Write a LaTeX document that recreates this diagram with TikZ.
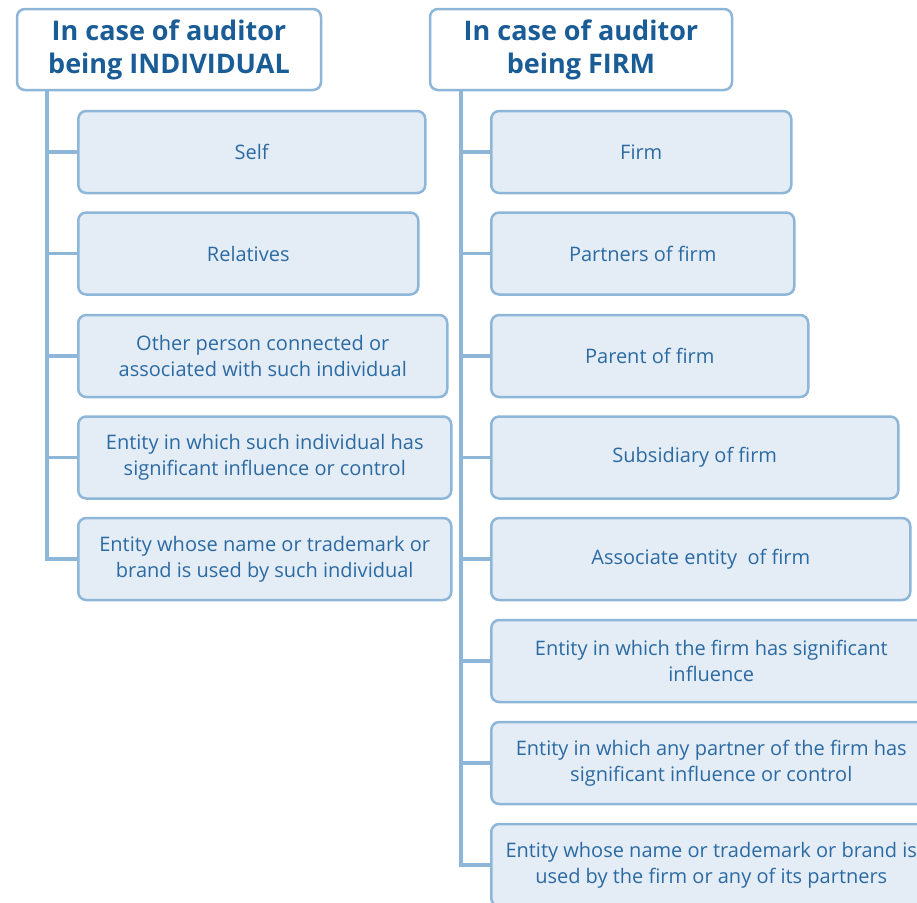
\documentclass[tikz,border=0pt]{standalone}
\usepackage{fontspec}
\setmainfont{Open Sans}
\definecolor{edgeblue}{HTML}{8DB6D8}
\definecolor{boxfill}{HTML}{E4EDF5}
\definecolor{txtblue}{HTML}{2B6AA3}
\definecolor{hdrblue}{HTML}{1A5C96}
\tikzset{
  hdr/.style={draw=edgeblue,line width=2.5pt,rounded corners=8pt,fill=white,
    text=hdrblue,font=\fontsize{27}{33}\selectfont\bfseries,align=center,
    minimum height=81pt,inner sep=0pt},
  itembox/.style={draw=edgeblue,line width=2.5pt,rounded corners=8pt,fill=boxfill,
    text=txtblue,font=\fontsize{20}{26}\selectfont,align=center,
    minimum height=82pt,inner sep=0pt,anchor=west},
  branch/.style={draw=edgeblue,line width=3.5pt}
}
\begin{document}
\begin{tikzpicture}[x=1pt,y=-1pt]
\useasboundingbox (0,0) rectangle (917,902);
% headers
\node[hdr,minimum width=304pt] (indiv) at (169,49.5) {In case of auditor\\being INDIVIDUAL};
\node[hdr,minimum width=302pt] (firm) at (581,49.5) {In case of auditor\\being FIRM};
%
% individual side
\node[itembox,minimum width=347pt] (i1) at (77,152) {Self};
\node[itembox,minimum width=340pt] (i2) at (77,253.5) {Relatives};
\node[itembox,minimum width=369pt] (i3) at (77,356) {Other person connected or\\associated with such individual};
\node[itembox,minimum width=373pt] (i4) at (77,457.5) {Entity in which such individual has\\significant influence or control};
\node[itembox,minimum width=373pt] (i5) at (77,559) {Entity whose name or trademark or\\brand is used by such individual};
%
% firm side
\node[itembox,minimum width=300pt] (f1) at (490,152) {Firm};
\node[itembox,minimum width=303pt] (f2) at (490,253.5) {Partners of firm};
\node[itembox,minimum width=317pt] (f3) at (490,356) {Parent of firm};
\node[itembox,minimum width=407pt] (f4) at (490,457.5) {Subsidiary of firm};
\node[itembox,minimum width=419pt] (f5) at (490,559) {Associate entity\ \ of firm};
\node[itembox,minimum width=440pt] (f6) at (490,661) {Entity in which the firm has significant\\influence};
\node[itembox,minimum width=440pt] (f7) at (490,763) {Entity in which any partner of the firm has\\significant influence or control};
\node[itembox,minimum width=440pt] (f8) at (490,865) {Entity whose name or trademark or brand is\\used by the firm or any of its partners};
%
% trunks
\coordinate (itop) at (47,90);
\coordinate (ftop) at (461,90);
\draw[branch] (itop) |- (i5.west);
\foreach \n in {i1,i2,i3,i4}
  \draw[branch] (itop |- \n.west) -- (\n.west);
\draw[branch] (ftop) |- (f8.west);
\foreach \n in {f1,f2,f3,f4,f5,f6,f7}
  \draw[branch] (ftop |- \n.west) -- (\n.west);
\end{tikzpicture}
\end{document}
